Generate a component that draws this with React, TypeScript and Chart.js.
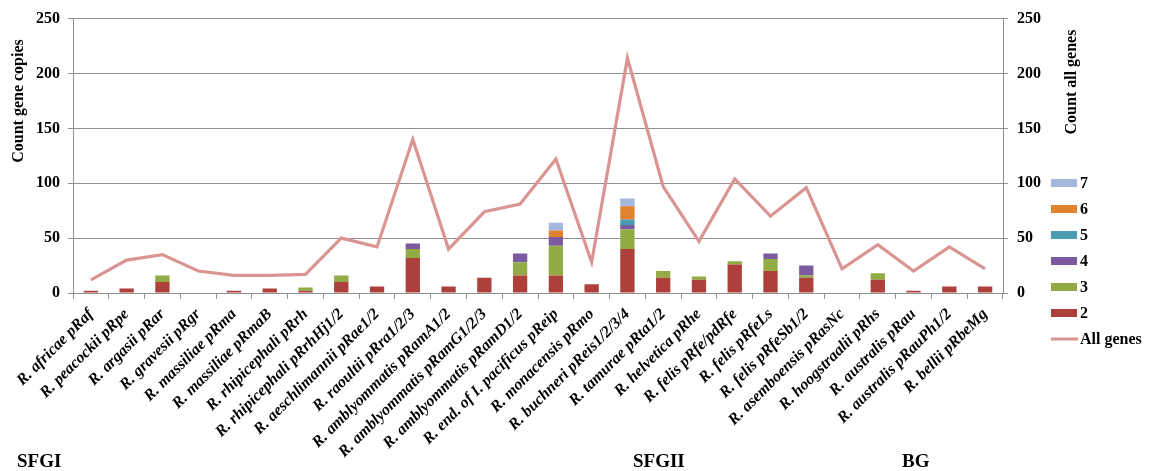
import React, { useEffect, useRef } from "react";
import { Chart, registerables } from "chart.js";

Chart.register(...registerables);

const FONT = "'Liberation Serif', 'Times New Roman', serif";

const categories = [
  "R. africae pRaf",
  "R. peacockii pRpe",
  "R. argasii pRar",
  "R. gravesii pRgr",
  "R. massiliae pRma",
  "R. massiliae pRmaB",
  "R. rhipicephali pRrh",
  "R. rhipicephali pRrhHj1/2",
  "R. aeschlimannii pRae1/2",
  "R. raoultii pRra1/2/3",
  "R. amblyommatis pRamA1/2",
  "R. amblyommatis pRamG1/2/3",
  "R. amblyommatis pRamD1/2",
  "R. end. of I. pacificus pReip",
  "R. monacensis pRmo",
  "R. buchneri pReis1/2/3/4",
  "R. tamurae pRta1/2",
  "R. helvetica pRhe",
  "R. felis pRfe/pdRfe",
  "R. felis pRfeLs",
  "R. felis pRfeSb1/2",
  "R. asemboensis pRasNc",
  "R. hoogstraalii pRhs",
  "R. australis pRau",
  "R. australis pRauPh1/2",
  "R. bellii pRbeMg",
];

const copies2 = [2, 4, 10, 0, 2, 4, 2, 10, 6, 32, 6, 14, 16, 16, 8, 40, 14, 12, 26, 20, 14, 0, 12, 2, 6, 6];
const copies3 = [0, 0, 6, 0, 0, 0, 3, 6, 0, 8, 0, 0, 12, 27, 0, 18, 6, 3, 3, 11, 2, 0, 6, 0, 0, 0];
const copies4 = [0, 0, 0, 0, 0, 0, 0, 0, 0, 5, 0, 0, 8, 8, 0, 4, 0, 0, 0, 5, 9, 0, 0, 0, 0, 0];
const copies5 = [0, 0, 0, 0, 0, 0, 0, 0, 0, 0, 0, 0, 0, 0, 0, 5, 0, 0, 0, 0, 0, 0, 0, 0, 0, 0];
const copies6 = [0, 0, 0, 0, 0, 0, 0, 0, 0, 0, 0, 0, 0, 6, 0, 12, 0, 0, 0, 0, 0, 0, 0, 0, 0, 0];
const copies7 = [0, 0, 0, 0, 0, 0, 0, 0, 0, 0, 0, 0, 0, 7, 0, 7, 0, 0, 0, 0, 0, 0, 0, 0, 0, 0];
const allGenes = [12, 30, 35, 20, 16, 16, 17, 50, 42, 140, 40, 74, 81, 122, 28, 214, 97, 47, 104, 70, 96, 22, 44, 20, 42, 22];

const groupLabels = ["SFGI", "SFGII", "BG"];
const leftTitle = "Count gene copies";
const rightTitle = "Count all genes";

const barSeries = [
  { label: "2", data: copies2, color: "#AE403C" },
  { label: "3", data: copies3, color: "#93AB45" },
  { label: "4", data: copies4, color: "#7B5A9D" },
  { label: "5", data: copies5, color: "#4A9CB3" },
  { label: "6", data: copies6, color: "#E0832F" },
  { label: "7", data: copies7, color: "#A4B8DE" },
];
const lineLabel = "All genes";
const lineColor = "#DA9593";

const extraText = {
  id: "extraText",
  afterDraw(chart: any) {
    const ctx = chart.ctx as CanvasRenderingContext2D;
    const area = chart.chartArea;
    ctx.save();
    ctx.fillStyle = "#000";
    ctx.textBaseline = "middle";

    // axis titles
    ctx.font = `bold 16px ${FONT}`;
    ctx.textAlign = "center";
    ctx.save();
    ctx.translate(area.left - 54, 101);
    ctx.rotate(-Math.PI / 2);
    ctx.fillText(leftTitle, 0, 0);
    ctx.restore();
    ctx.save();
    ctx.translate(area.right + 69, 82);
    ctx.rotate(-Math.PI / 2);
    ctx.fillText(rightTitle, 0, 0);
    ctx.restore();

    // legend (reverse order, 7 at top)
    const lx = area.right + 48;
    const items = [...barSeries].reverse();
    ctx.textAlign = "left";
    ctx.font = `bold 16px ${FONT}`;
    let y = 183;
    for (const it of items) {
      ctx.fillStyle = it.color;
      ctx.fillRect(lx, y - 4, 26, 8);
      ctx.fillStyle = "#000";
      ctx.fillText(it.label, lx + 29, y + 1);
      y += 26;
    }
    ctx.strokeStyle = lineColor;
    ctx.lineWidth = 3;
    ctx.beginPath();
    ctx.moveTo(lx, y);
    ctx.lineTo(lx + 27, y);
    ctx.stroke();
    ctx.fillStyle = "#000";
    ctx.fillText(lineLabel, lx + 29, y + 1);

    // group labels
    ctx.font = `bold 19px ${FONT}`;
    ctx.textAlign = "left";
    ctx.fillText(groupLabels[0], 17, 462);
    ctx.fillText(groupLabels[1], 633, 462);
    ctx.fillText(groupLabels[2], 902, 462);
    ctx.restore();
  },
};

export default function App() {
  const ref = useRef<HTMLCanvasElement | null>(null);

  useEffect(() => {
    if (!ref.current) return;
    const datasets: any[] = barSeries.map((s) => ({
      type: "bar",
      label: s.label,
      data: s.data,
      backgroundColor: s.color,
      borderWidth: 0,
      yAxisID: "y",
      stack: "copies",
      order: 1,
      categoryPercentage: 1,
      barPercentage: 0.4,
    }));
    datasets.push({
      type: "line",
      label: lineLabel,
      data: allGenes,
      borderColor: lineColor,
      backgroundColor: lineColor,
      borderWidth: 3.2,
      pointRadius: 0,
      tension: 0,
      borderJoinStyle: "miter",
      yAxisID: "y1",
      order: 0,
    });

    const chart = new Chart(ref.current, {
      type: "bar",
      data: { labels: categories, datasets },
      options: {
        animation: false,
        responsive: false,
        layout: { padding: { left: 0, right: 0, top: 18, bottom: 0 } },
        plugins: {
          legend: { display: false },
          tooltip: { enabled: false },
        },
        scales: {
          x: {
            stacked: true,
            offset: true,
            grid: {
              offset: true,
              drawOnChartArea: false,
              drawTicks: true,
              tickLength: 6,
              color: "#8f8f8f",
            },
            border: { color: "#8f8f8f", width: 1 },
            ticks: {
              autoSkip: false,
              minRotation: 45,
              maxRotation: 45,
              padding: 6,
              color: "#000",
              font: { family: FONT, size: 16, weight: "bold", style: "italic" },
            },
            afterFit: (s: any) => {
              s.height = 178;
            },
          },
          y: {
            stacked: true,
            position: "left",
            min: 0,
            max: 250,
            ticks: {
              stepSize: 50,
              padding: 8,
              color: "#000",
              font: { family: FONT, size: 16, weight: "bold" },
            },
            grid: { color: "#8f8f8f", tickLength: 5, lineWidth: 1 },
            border: { color: "#8f8f8f", width: 1 },
            afterFit: (s: any) => {
              s.width = 73;
            },
          },
          y1: {
            position: "right",
            min: 0,
            max: 250,
            ticks: {
              stepSize: 50,
              padding: 9,
              color: "#000",
              font: { family: FONT, size: 16, weight: "bold" },
            },
            grid: { drawOnChartArea: false, color: "#8f8f8f", tickLength: 5 },
            border: { color: "#8f8f8f", width: 1 },
            afterFit: (s: any) => {
              s.width = 154;
            },
          },
        },
      },
      plugins: [extraText],
    });
    return () => chart.destroy();
  }, []);

  return (
    <div style={{ position: "absolute", left: 0, top: 0, width: 1157, height: 471, background: "#fff" }}>
      <canvas ref={ref} width={1157} height={471} style={{ width: 1157, height: 471, display: "block" }} />
    </div>
  );
}
